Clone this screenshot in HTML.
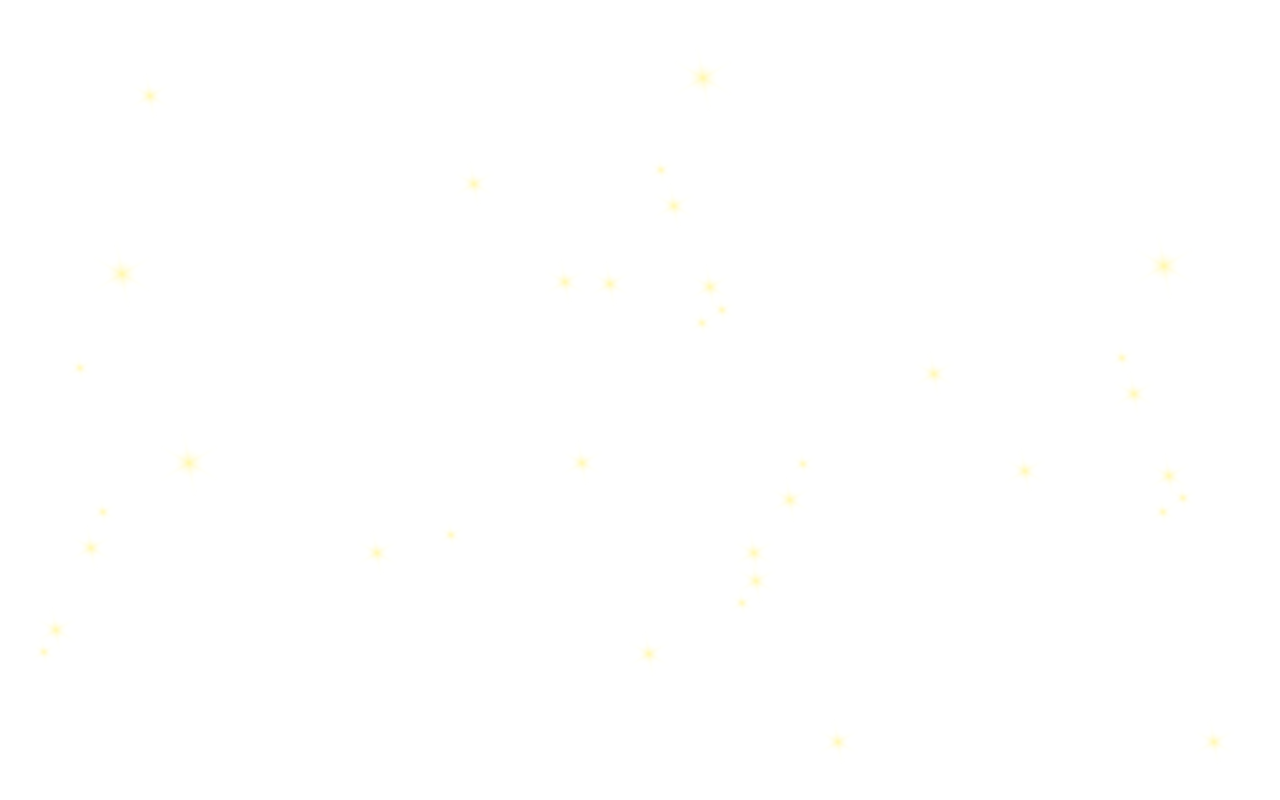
<!DOCTYPE html>
<html><head><meta charset="utf-8"><style>
html,body{margin:0;padding:0;background:#fff;width:1280px;height:800px;overflow:hidden}
svg{display:block}
</style></head>
<body>
<svg id="sky" width="1280" height="800" viewBox="0 0 1280 800" xmlns="http://www.w3.org/2000/svg">
<defs>
<radialGradient id="glow"><stop offset="0" stop-color="#fff47c" stop-opacity="0.75"/><stop offset="0.3" stop-color="#fff7a8" stop-opacity="0.4"/><stop offset="1" stop-color="#fffbe0" stop-opacity="0"/></radialGradient>
<linearGradient id="ray" x1="0" x2="1"><stop offset="0" stop-color="#fff8b8" stop-opacity="0"/><stop offset="0.5" stop-color="#fff49a" stop-opacity="0.3"/><stop offset="1" stop-color="#fff8b8" stop-opacity="0"/></linearGradient>
<filter id="soft" x="-50%" y="-50%" width="200%" height="200%"><feGaussianBlur stdDeviation="1.2"/></filter>
</defs>
<rect width="1280" height="800" fill="#fff"/>
</svg>
<script>
const starX=[150,703,474,661,674,122,565,610,710,722,702,1164,80,934,1122,1134,189,582,803,1025,1169,1183,1163,790,103,91,377,451,754,756,742,56,44,649,838,1214];
const starY=[96,78,184,170,206,274,282,284,287,310,323,266,368,374,358,394,463,463,464,471,476,498,512,500,512,548,553,535,553,581,603,630,652,654,742,742];
const starSize=[2,3,2,1,2,3,2,2,2,1,1,3,1,2,1,2,3,2,1,2,2,1,1,2,1,2,2,1,2,2,1,2,1,2,2,2];
const svg=document.getElementById('sky');
const NS='http://www.w3.org/2000/svg';
for(let i=0;i<starX.length;i++){
  const r=[0,6,10,15][starSize[i]];
  const g=document.createElementNS(NS,'g');
  
  
  g.setAttribute('transform','translate('+starX[i]+','+starY[i]+')');
  g.setAttribute('filter','url(#soft)');
  const c=document.createElementNS(NS,'circle');
  c.setAttribute('r',r);c.setAttribute('fill','url(#glow)');
  g.appendChild(c);
  [30,-30,80].forEach(a=>{
    const l=document.createElementNS(NS,'rect');
    const L=r*2.2;
    l.setAttribute('x',-L);l.setAttribute('y',-1);l.setAttribute('width',2*L);l.setAttribute('height',2);
    l.setAttribute('fill','url(#ray)');
    l.setAttribute('transform','rotate('+a+')');
    g.appendChild(l);
  });
  svg.appendChild(g);
}
</script>
</body></html>
